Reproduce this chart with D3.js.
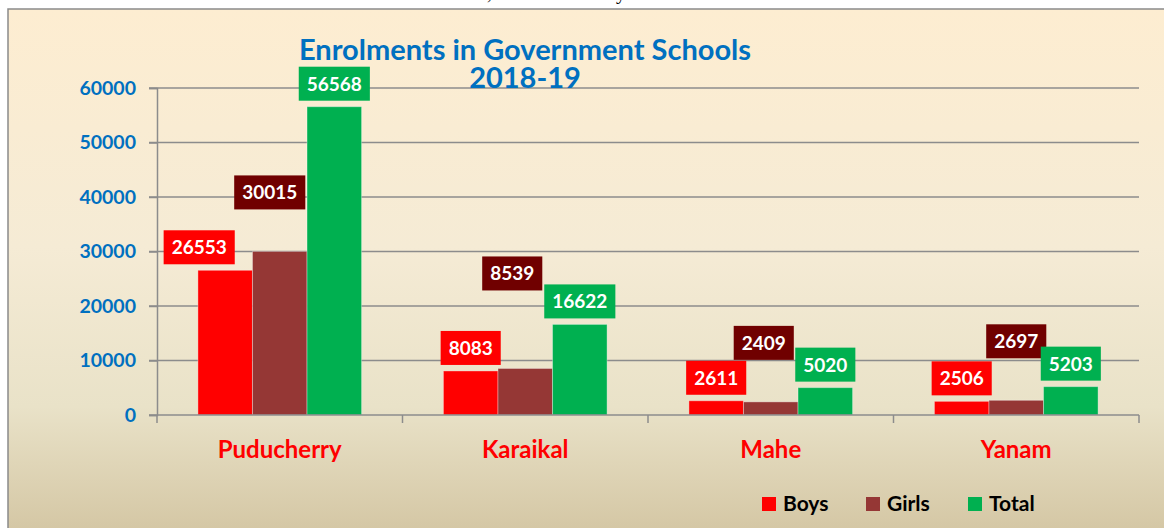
<!DOCTYPE html>
<html>
<head>
<meta charset="utf-8">
<script src="https://d3js.org/d3.v7.min.js"></script>
<style>
  body { margin: 0; background: #fff; }
  svg { display: block; font-family: Lato, "Open Sans", sans-serif; }
</style>
</head>
<body>
<svg width="1164" height="528"></svg>
<script>
// chart data
var regions = ["Puducherry", "Karaikal", "Mahe", "Yanam"];
var seriesNames = ["Boys", "Girls", "Total"];
var boys = [26553, 8083, 2611, 2506];
var girls = [30015, 8539, 2409, 2697];
var total = [56568, 16622, 5020, 5203];
var yTicks = [0, 10000, 20000, 30000, 40000, 50000, 60000];

var values = { Boys: boys, Girls: girls, Total: total };
var barColor = { Boys: "#ff0000", Girls: "#953735", Total: "#00b050" };
var boxColor = { Boys: "#ff0000", Girls: "#700000", Total: "#00b050" };

// labels were moved by hand in the original, so nudge a few
var labelNudge = {
  "Puducherry|Boys": [-26, 0],
  "Puducherry|Girls": [-10, 0],
  "Karaikal|Girls": [-13, -36],
  "Mahe|Girls": [-7, 0]
};

var svg = d3.select("svg");

// background
var grad = svg.append("defs").append("linearGradient")
  .attr("id", "bg").attr("x1", 0).attr("y1", 0).attr("x2", 0).attr("y2", 1);
grad.append("stop").attr("offset", "0%").attr("stop-color", "#fdedd1");
grad.append("stop").attr("offset", "45%").attr("stop-color", "#f5ebd5");
grad.append("stop").attr("offset", "75%").attr("stop-color", "#e9e2c8");
grad.append("stop").attr("offset", "100%").attr("stop-color", "#d3c5a2");

svg.append("rect")
  .attr("x", 8).attr("y", 9).attr("width", 1170).attr("height", 530)
  .attr("fill", "url(#bg)").attr("stroke", "#8a8a8a").attr("stroke-width", 1.5);

// bits of text cut off at the top, as in the source picture
svg.append("text").attr("x", 487).attr("y", -1).attr("font-size", 20)
  .attr("font-family", "Liberation Serif").text(",");
svg.append("text").attr("x", 616).attr("y", -1).attr("font-size", 20)
  .attr("font-family", "Liberation Serif").text("y");

var x0 = d3.scaleBand().domain(regions).range([157, 1139]).padding(0);
var x1 = d3.scaleBand().domain(seriesNames).range([0, x0.bandwidth()])
  .paddingInner(0).paddingOuter(0.75);
var y = d3.scaleLinear().domain([0, 60000]).range([415, 88]);

// gridlines
svg.append("g").selectAll("line")
  .data(yTicks.filter(d => d > 0))
  .join("line")
  .attr("x1", 149).attr("x2", 1139)
  .attr("y1", d => y(d)).attr("y2", d => y(d))
  .attr("stroke", "#8c8c8c").attr("stroke-width", 1.5);

// y axis
var yAxis = svg.append("g").attr("transform", "translate(157,0)")
  .call(d3.axisLeft(y).tickValues(yTicks).tickSize(8).tickPadding(13).tickFormat(d3.format("d")));
yAxis.select(".domain").attr("stroke", "#8c8c8c").attr("stroke-width", 1.5);
yAxis.selectAll(".tick line").attr("stroke", "#8c8c8c").attr("stroke-width", 1.5);
yAxis.selectAll(".tick text")
  .attr("fill", "#0070c0").attr("font-size", 19.5).attr("font-weight", "bold")
  .attr("font-family", "Lato");

// bars
var groups = svg.append("g").selectAll("g")
  .data(regions)
  .join("g")
  .attr("transform", d => "translate(" + x0(d) + ",0)");

groups.selectAll("rect")
  .data((r, i) => seriesNames.map(s => ({ region: r, series: s, value: values[s][i] })))
  .join("rect")
  .attr("x", d => x1(d.series))
  .attr("y", d => y(d.value))
  .attr("width", x1.bandwidth())
  .attr("height", d => y(0) - y(d.value))
  .attr("fill", d => barColor[d.series])
  .attr("stroke", "rgba(255,255,255,0.35)")
  .attr("stroke-width", 1);

// x axis
svg.append("line")
  .attr("x1", 149).attr("x2", 1139).attr("y1", 415).attr("y2", 415)
  .attr("stroke", "#8c8c8c").attr("stroke-width", 1.5);
svg.append("g").selectAll("line")
  .data(regions.concat(["end"]))
  .join("line")
  .attr("x1", d => d === "end" ? 1139 : x0(d))
  .attr("x2", d => d === "end" ? 1139 : x0(d))
  .attr("y1", 415).attr("y2", 423)
  .attr("stroke", "#8c8c8c").attr("stroke-width", 1.5);

svg.append("g").selectAll("text")
  .data(regions)
  .join("text")
  .attr("x", d => x0(d) + x0.bandwidth() / 2)
  .attr("y", 458)
  .attr("text-anchor", "middle")
  .attr("fill", "#ff0000").attr("font-size", 24).attr("font-weight", "bold")
  .text(d => d);

// value labels
var labelData = [];
regions.forEach((r, i) => seriesNames.forEach(s => {
  labelData.push({ region: r, series: s, value: values[s][i] });
}));

var labels = svg.append("g").selectAll("g")
  .data(labelData)
  .join("g");

labels.each(function(d) {
  var g = d3.select(this);
  var nudge = labelNudge[d.region + "|" + d.series] || [0, 0];
  var gap = d.series === "Girls" ? 42 : 6;
  var cx = x0(d.region) + x1(d.series) + x1.bandwidth() / 2 + nudge[0];
  var bottom = y(d.value) - gap + nudge[1];
  var t = g.append("text")
    .attr("x", cx).attr("y", bottom - 10)
    .attr("text-anchor", "middle")
    .attr("fill", "#fff").attr("font-size", 19).attr("font-weight", "bold")
    .text(d.value);
  var w = t.node().getBBox().width + 16;
  g.insert("rect", "text")
    .attr("x", cx - w / 2).attr("y", bottom - 34)
    .attr("width", w).attr("height", 34)
    .attr("fill", boxColor[d.series]);
});

// title
svg.append("text").attr("x", 525).attr("y", 60).attr("text-anchor", "middle")
  .attr("fill", "#0070c0").attr("font-size", 29).attr("font-weight", "bold")
  .text("Enrolments in Government Schools");
svg.append("text").attr("x", 525).attr("y", 88).attr("text-anchor", "middle")
  .attr("fill", "#0070c0").attr("font-size", 29).attr("font-weight", "bold")
  .text("2018-19");

// legend
var legendX = [762, 866, 968];
var legend = svg.append("g").selectAll("g")
  .data(seriesNames)
  .join("g")
  .attr("transform", (d, i) => "translate(" + legendX[i] + ",497)");
legend.append("rect").attr("width", 14).attr("height", 14)
  .attr("fill", d => barColor[d]);
legend.append("text").attr("x", 21).attr("y", 14)
  .attr("font-size", 21).attr("font-weight", "bold").attr("fill", "#000")
  .text(d => d);
</script>
</body>
</html>
